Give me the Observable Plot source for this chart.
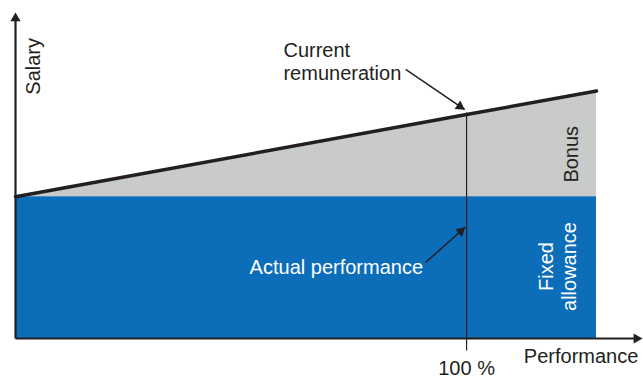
<!DOCTYPE html>
<html><head><meta charset="utf-8">
<script src="https://cdn.jsdelivr.net/npm/d3@7"></script>
<script src="https://cdn.jsdelivr.net/npm/@observablehq/plot@0.6"></script>
<style>body{margin:0;background:#fff}</style>
</head><body><div id="chart"></div>
<script>
// Data (schematic units: performance in %, salary with fixed allowance = 100)
const performance = [0, 100, 128.8];
const fixedAllowance = [100, 100, 100];
const currentRemuneration = [100, 158, 174.6];
const axisEnds = {x: 139, y: 230};
const labels = ["Salary", "Performance", "100 %", "Bonus", "Fixed\nallowance", "Current\nremuneration", "Actual performance"];
// annotation arrows: [fromX, fromY, toX, toY]
const remunerationArrow = [86.5, 189.8, 99.6, 161.4];
const actualArrow = [90.9, 53.6, 99.7, 78.5];

const xDomain = [0, 139], xRange = [15, 642];
const yDomain = [0, 230], yRange = [338, 12];
const sx = d3.scaleLinear(xDomain, xRange), sy = d3.scaleLinear(yDomain, yRange);
const R = 3.8;
function head(fx, fy, tx, ty) {
  const px = sx(tx), py = sy(ty), dx = px - sx(fx), dy = py - sy(fy);
  const len = Math.hypot(dx, dy), ux = dx / len, uy = dy / len;
  const off = 2 * Math.sqrt(R * R * Math.PI / (Math.sqrt(3) * 3));
  return {x: sx.invert(px - ux * off), y: sy.invert(py - uy * off), rotate: Math.atan2(dx, -dy) * 180 / Math.PI, ex: sx.invert(px - ux * off), ey: sy.invert(py - uy * off)};
}
const heads = [
  head(0, 0, 0, axisEnds.y),
  head(0, 0, axisEnds.x, 0),
  head(...remunerationArrow),
  head(...actualArrow)
];
const rows = performance.map((p, i) => ({p, fixed: fixedAllowance[i], total: currentRemuneration[i]}));
const ink = "#231f20";
const font = "Liberation Sans, Arial, sans-serif";
const fs = 20;

const chart = Plot.plot({
  width: 643, height: 379, margin: 0,
  style: {fontFamily: font, background: "#fff"},
  x: {domain: xDomain, range: xRange, axis: null},
  y: {domain: yDomain, range: yRange, axis: null},
  marks: [
    Plot.areaY(rows, {x: "p", y1: "fixed", y2: "total", fill: "#c9caca"}),
    Plot.areaY(rows, {x: "p", y1: 0, y2: "fixed", fill: "#0c6db8"}),
    Plot.line(rows, {x: "p", y: "total", stroke: ink, strokeWidth: 3.5}),
    Plot.link([{x1: 100, y1: -8.5, x2: 100, y2: 159.5}], {x1: "x1", y1: "y1", x2: "x2", y2: "y2", stroke: ink, strokeWidth: 1.2}),
    Plot.link([{x1: 0, y1: 0, x2: 0, y2: heads[0].ey}, {x1: 0, y1: 0, x2: heads[1].ex, y2: 0}], {x1: "x1", y1: "y1", x2: "x2", y2: "y2", stroke: ink, strokeWidth: 2.2}),
    Plot.link([remunerationArrow, actualArrow], {x1: d => d[0], y1: d => d[1], x2: d => d[2], y2: d => d[3], stroke: ink, strokeWidth: 1.5}),
    Plot.dot(heads, {x: "x", y: "y", rotate: "rotate", symbol: "triangle", r: R, fill: ink, stroke: "none"}),
    Plot.text([labels[0]], {x: 4.1, y: 192, text: d => d, rotate: -90, fontSize: fs, fill: ink}),
    Plot.text([labels[1]], {x: 112.7, y: -12.7, text: d => d, textAnchor: "start", fontSize: fs, fill: ink}),
    Plot.text([labels[2]], {x: 100, y: -21.5, text: d => d, fontSize: fs, fill: ink}),
    Plot.text([labels[3]], {x: 123.2, y: 130, text: d => d, rotate: -90, fontSize: fs, fill: ink}),
    Plot.text([labels[4]], {x: 120.0, y: 50.8, text: d => d, rotate: -90, fontSize: fs, lineHeight: 1.15, fill: "#fff"}),
    Plot.text([labels[5]], {x: 59.4, y: 210.3, text: d => d, textAnchor: "start", lineAnchor: "top", lineHeight: 1.15, fontSize: fs, fill: ink}),
    Plot.text([labels[6]], {x: 51.9, y: 50.1, text: d => d, textAnchor: "start", fontSize: fs, fill: "#fff"})
  ]
});
document.getElementById("chart").append(chart);
</script>
</body></html>
